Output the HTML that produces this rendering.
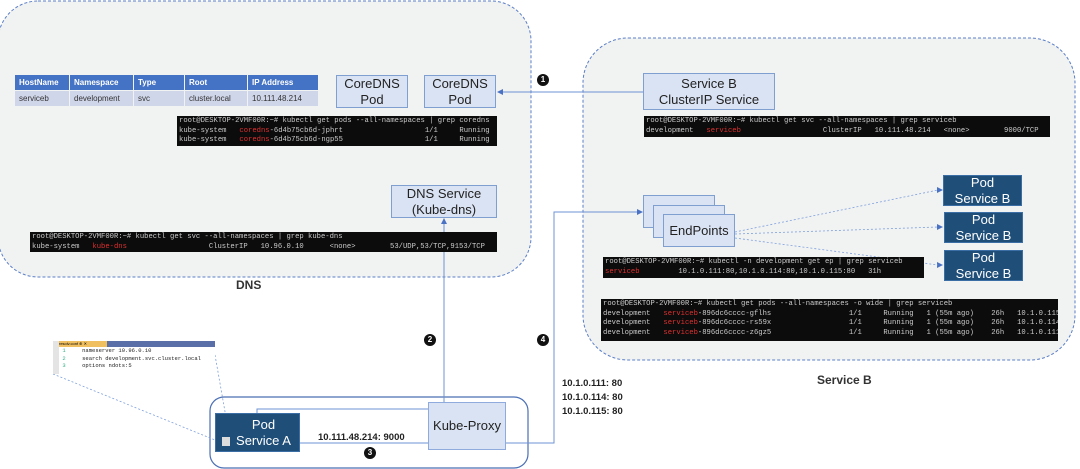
<!DOCTYPE html>
<html><head><meta charset="utf-8"><style>
body{margin:0;width:1080px;height:469px;overflow:hidden;background:#fff;font-family:"Liberation Sans",sans-serif}
.a{position:absolute}
.box{position:absolute;background:#dae3f3;border:1.5px solid #7f9fd0;box-sizing:border-box;text-align:center;color:#222;font-size:13px;line-height:16px;display:flex;align-items:center;justify-content:center}
.pod{position:absolute;background:#1f4e79;border:1px solid #3a6ea5;box-sizing:border-box;color:#fff;text-align:center;font-size:13px;line-height:16px;display:flex;align-items:center;justify-content:center}
.term{position:absolute;background:#0c0c0c;color:#ccc;font-family:"Liberation Mono",monospace;font-size:7.2px;line-height:9.5px;white-space:pre;overflow:hidden;padding:1px 2px;box-sizing:border-box}
.r{color:#e03030}
.c{position:absolute;width:12px;height:12px;border-radius:50%;background:#111;color:#fff;font-size:8px;font-weight:bold;text-align:center;line-height:12px}
table{border-collapse:separate;border-spacing:1px;font-size:8px}
td{padding:0 4px;height:15px}
</style></head><body>
<svg class="a" style="left:0;top:0" width="1080" height="469">
<rect x="-2" y="1" width="533" height="276" rx="40" fill="#f1f2f2" stroke="#5b7fc7" stroke-dasharray="3,2" stroke-width="1"/>
<rect x="583" y="38" width="492" height="322" rx="45" fill="#f1f2f2" stroke="#5b7fc7" stroke-dasharray="3,2" stroke-width="1"/>
<rect x="210" y="397" width="318" height="71" rx="14" fill="none" stroke="#4a6fb5" stroke-width="1.2"/>
<g stroke="#6f93d4" stroke-width="1" fill="none">
<line x1="643" y1="92" x2="501" y2="92"/>
<polyline points="257,413 257,409 444,409 444,222"/>
<polyline points="300,443 554,443 554,212 638,212"/>
</g>
<g fill="#4a72c4">
<polygon points="497,92 503,89 503,95"/>
<polygon points="444,218 441,224 447,224"/>
<polygon points="643,212 637,209 637,215"/>
<polygon points="943,190 937,187 937,193"/>
<polygon points="943,227 937,224 937,230"/>
<polygon points="943,265 937,262 937,268"/>
</g>
<g stroke="#7fa0dc" stroke-width="0.8" stroke-dasharray="2,2" fill="none">
<line x1="735" y1="232" x2="938" y2="190"/>
<line x1="735" y1="234" x2="938" y2="227"/>
<line x1="735" y1="238" x2="938" y2="265"/>
<line x1="53" y1="374" x2="215" y2="440"/>
<line x1="215" y1="355" x2="230" y2="440"/>
</g>
</svg>
<table class="a" style="left:14px;top:74px">
<tr style="background:#4472c4;color:#fff;font-weight:bold"><td style="width:46px">HostName</td><td style="width:55px">Namespace</td><td style="width:42px">Type</td><td style="width:54px">Root</td><td style="width:62px">IP Address</td></tr>
<tr style="background:#d0d6ea;color:#333"><td>serviceb</td><td>development</td><td>svc</td><td>cluster.local</td><td>10.111.48.214</td></tr>
</table>
<div class="box" style="left:336px;top:75px;width:72px;height:33px">CoreDNS<br>Pod</div>
<div class="box" style="left:424px;top:75px;width:72px;height:33px">CoreDNS<br>Pod</div>
<div class="term" style="left:177px;top:116px;width:320px;height:30px">root@DESKTOP-2VMF00R:~# kubectl get pods --all-namespaces | grep coredns
kube-system   <span class="r">coredns</span>-6d4b75cb6d-jphrt                   1/1     Running   0
kube-system   <span class="r">coredns</span>-6d4b75cb6d-ngp55                   1/1     Running   0</div>
<div class="box" style="left:391px;top:185px;width:106px;height:33px">DNS Service<br>(Kube-dns)</div>
<div class="term" style="left:30px;top:232px;width:467px;height:20px">root@DESKTOP-2VMF00R:~# kubectl get svc --all-namespaces | grep kube-dns
kube-system   <span class="r">kube-dns</span>                   ClusterIP   10.96.0.10      &lt;none&gt;        53/UDP,53/TCP,9153/TCP</div>
<div class="a" style="left:236px;top:278px;font-size:12px;font-weight:bold;color:#333">DNS</div>
<div class="c" style="left:537px;top:74px">1</div>
<div class="box" style="left:643px;top:73px;width:132px;height:37px">Service B<br>ClusterIP Service</div>
<div class="term" style="left:644px;top:116px;width:406px;height:21px">root@DESKTOP-2VMF00R:~# kubectl get svc --all-namespaces | grep serviceb
development   <span class="r">serviceb</span>                   ClusterIP   10.111.48.214   &lt;none&gt;        9000/TCP</div>
<div class="box" style="left:643px;top:195px;width:72px;height:33px"></div>
<div class="box" style="left:653px;top:205px;width:72px;height:33px"></div>
<div class="box" style="left:663px;top:214px;width:72px;height:33px">EndPoints</div>
<div class="pod" style="left:943px;top:175px;width:79px;height:31px">Pod<br>Service B</div>
<div class="pod" style="left:944px;top:212px;width:79px;height:31px">Pod<br>Service B</div>
<div class="pod" style="left:944px;top:250px;width:79px;height:31px">Pod<br>Service B</div>
<div class="term" style="left:603px;top:257px;width:321px;height:21px">root@DESKTOP-2VMF00R:~# kubectl -n development get ep | grep serviceb
<span class="r">serviceb</span>         10.1.0.111:80,10.1.0.114:80,10.1.0.115:80   31h</div>
<div class="term" style="left:601px;top:299px;width:457px;height:42px">root@DESKTOP-2VMF00R:~# kubectl get pods --all-namespaces -o wide | grep serviceb
development   <span class="r">serviceb</span>-896dc6cccc-gflhs                  1/1     Running   1 (55m ago)    26h   10.1.0.115
development   <span class="r">serviceb</span>-896dc6cccc-rs59x                  1/1     Running   1 (55m ago)    26h   10.1.0.114
development   <span class="r">serviceb</span>-896dc6cccc-z6gz5                  1/1     Running   1 (55m ago)    26h   10.1.0.111</div>
<div class="a" style="left:817px;top:373px;font-size:12px;font-weight:bold;color:#333">Service B</div>
<div class="c" style="left:424px;top:334px">2</div>
<div class="c" style="left:537px;top:334px">4</div>
<div class="c" style="left:364px;top:447px">3</div>
<div class="a" style="left:562px;top:377px;font-size:9.5px;font-weight:bold;line-height:14px;color:#222">10.1.0.111: 80<br>10.1.0.114: 80<br>10.1.0.115: 80</div>
<div class="a" style="left:53px;top:341px;width:162px;height:33px;background:#fff;border-left:6px solid #e4e4e4;box-sizing:border-box">
<div style="height:6px;background:#5a6fa8;position:relative"><div style="width:48px;height:6px;background:#f0c060;font-size:4px;line-height:6px">resolv.conf ⊕ ✕</div></div>
<div style="font-family:'Liberation Mono',monospace;font-size:5.5px;line-height:7.5px;white-space:pre;color:#222"> <span style="color:#3a8">1</span>     nameserver 10.96.0.10
 <span style="color:#3a8">2</span>     search development.svc.cluster.local
 <span style="color:#3a8">3</span>     options ndots:5</div></div>
<div class="pod" style="left:215px;top:413px;width:85px;height:39px;padding-left:12px">Pod<br>Service A</div>
<div class="a" style="left:222px;top:437px;width:8px;height:9px;background:#ddd"></div>
<div class="box" style="left:428px;top:402px;width:78px;height:48px;border-color:#8faadc">Kube-Proxy</div>
<div class="a" style="left:318px;top:432px;font-size:9.5px;font-weight:bold;color:#222">10.111.48.214: 9000</div>
</body></html>
